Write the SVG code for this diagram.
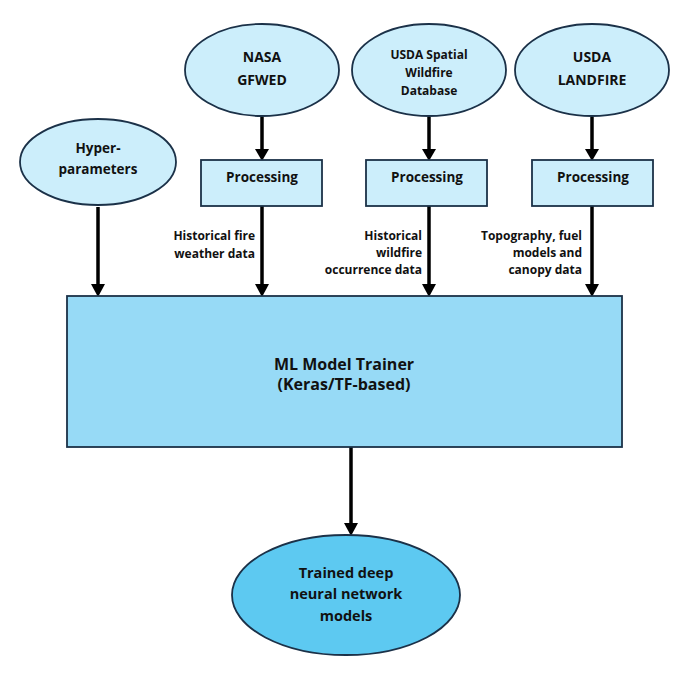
<svg xmlns="http://www.w3.org/2000/svg" width="698" height="677" viewBox="0 0 698 677">
<defs>
<style>
.n{fill:#CCEEFB;stroke:#1B3148;stroke-width:1.8}
.m{fill:#97DAF6;stroke:#1B3148;stroke-width:1.8}
.o{fill:#5DC9F1;stroke:#1B3148;stroke-width:1.8}
text{font-family:"Open Sans","Liberation Sans",sans-serif;font-weight:bold;fill:#111}
.t{font-size:13.5px;text-anchor:middle}
.e{font-size:14px;text-anchor:middle}
.s{font-size:12px;text-anchor:middle}
.l{font-size:12px;text-anchor:end}
.b{font-size:16px;text-anchor:middle}
.f{font-size:14.5px;text-anchor:middle}
.c{stroke:#000;stroke-width:3.5;fill:none}
</style>
</defs>
<rect width="698" height="677" fill="#fff"/>
<g id="connectors">
<path class="c" d="M98,207 L98,285"/>
<path class="c" d="M262,117 L262,150"/>
<path class="c" d="M262,206 L262,285"/>
<path class="c" d="M429,117 L429,150"/>
<path class="c" d="M429,206 L429,285"/>
<path class="c" d="M592,117 L592,150"/>
<path class="c" d="M592,206 L592,285"/>
<path class="c" d="M351,447 L351,524"/>
<g fill="#000">
<path d="M91,284 L105,284 L98,297 Z"/>
<path d="M255,149 L269,149 L262,161 Z"/>
<path d="M255,284 L269,284 L262,297 Z"/>
<path d="M422,149 L436,149 L429,161 Z"/>
<path d="M422,284 L436,284 L429,297 Z"/>
<path d="M585,149 L599,149 L592,161 Z"/>
<path d="M585,284 L599,284 L592,297 Z"/>
<path d="M344,523 L358,523 L351,536 Z"/>
</g>
<text class="l" x="255" y="240">Historical fire</text>
<text class="l" x="255" y="258">weather data</text>
<text class="l" x="422" y="240">Historical</text>
<text class="l" x="422" y="257">wildfire</text>
<text class="l" x="422" y="274">occurrence data</text>
<text class="l" x="582" y="240">Topography, fuel</text>
<text class="l" x="582" y="257">models and</text>
<text class="l" x="582" y="274">canopy data</text>
</g>
<g id="nasa">
<ellipse class="n" cx="262" cy="70" rx="77" ry="46"/>
<text class="e" x="262" y="62">NASA</text>
<text class="e" x="262" y="85">GFWED</text>
</g>
<g id="usda-spatial">
<ellipse class="n" cx="429" cy="70" rx="77" ry="46"/>
<text class="s" x="429" y="59">USDA Spatial</text>
<text class="s" x="429" y="77">Wildfire</text>
<text class="s" x="429" y="95">Database</text>
</g>
<g id="usda-landfire">
<ellipse class="n" cx="592" cy="70" rx="77" ry="46"/>
<text class="e" x="592" y="62">USDA</text>
<text class="e" x="592" y="85">LANDFIRE</text>
</g>
<g id="hyper">
<ellipse class="n" cx="98" cy="162" rx="78" ry="43"/>
<text class="t" x="98" y="153">Hyper-</text>
<text class="t" x="98" y="174">parameters</text>
</g>
<g id="proc1">
<rect class="n" x="201" y="160" width="121" height="46"/>
<text class="t" x="262" y="182">Processing</text>
</g>
<g id="proc2">
<rect class="n" x="366" y="160" width="121" height="46"/>
<text class="t" x="427" y="182">Processing</text>
</g>
<g id="proc3">
<rect class="n" x="532" y="160" width="121" height="46"/>
<text class="t" x="593" y="182">Processing</text>
</g>
<g id="trainer">
<rect class="m" x="67" y="296" width="555" height="151"/>
<text class="b" x="344" y="370">ML Model Trainer</text>
<text class="b" x="344" y="390">(Keras/TF-based)</text>
</g>
<g id="models">
<ellipse class="o" cx="346" cy="595" rx="114" ry="60"/>
<text class="f" x="346" y="578">Trained deep</text>
<text class="f" x="346" y="599">neural network</text>
<text class="f" x="346" y="621">models</text>
</g>
</svg>
